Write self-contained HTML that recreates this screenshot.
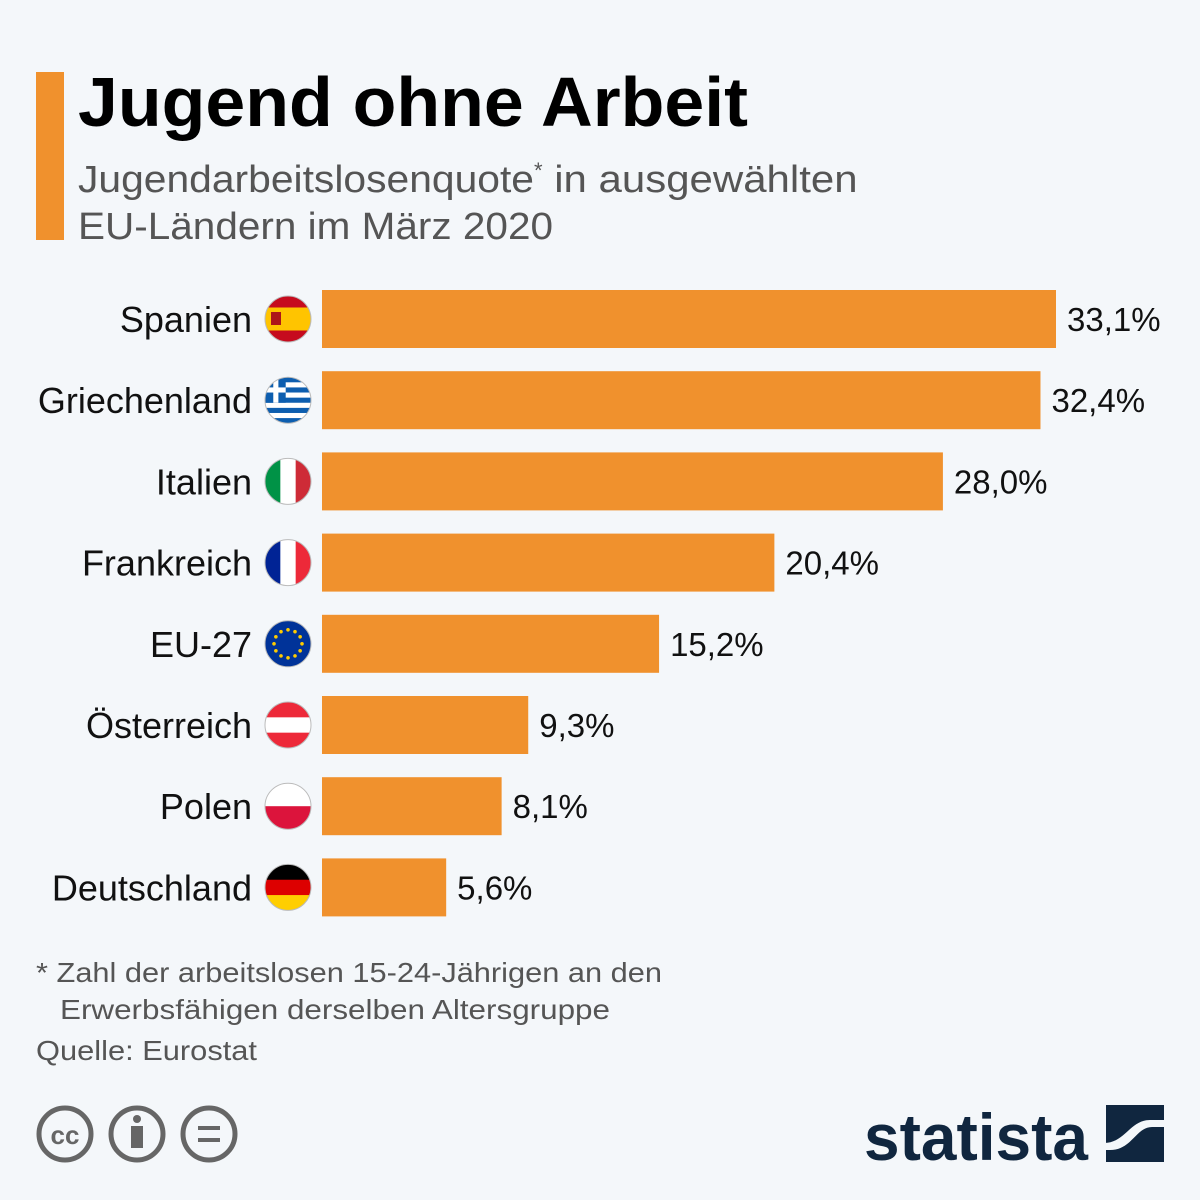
<!DOCTYPE html>
<html><head><meta charset="utf-8"><style>
html,body{margin:0;padding:0;background:#f4f7fa;}
svg{display:block;font-family:"Liberation Sans",sans-serif;}
</style></head><body>
<svg id="chart" width="1200" height="1200" viewBox="0 0 1200 1200">
<rect width="1200" height="1200" fill="#f4f7fa"/>
<rect x="36" y="72" width="28" height="168" fill="#f0912d"/>
<text x="78" y="126" font-size="70" font-weight="bold" fill="#000" textLength="670" lengthAdjust="spacingAndGlyphs">Jugend ohne Arbeit</text>
<text x="78" y="192" font-size="38" fill="#555"><tspan textLength="456" lengthAdjust="spacingAndGlyphs">Jugendarbeitslosenquote</tspan><tspan font-size="22" dy="-14">*</tspan><tspan dy="14" textLength="315" lengthAdjust="spacingAndGlyphs"> in ausgewählten</tspan></text>
<text x="78" y="239" font-size="38" fill="#555" textLength="475" lengthAdjust="spacingAndGlyphs">EU-Ländern im März 2020</text>
<g id="bars"></g>
<text x="36" y="982" font-size="28" fill="#555" textLength="626" lengthAdjust="spacingAndGlyphs">* Zahl der arbeitslosen 15-24-Jährigen an den</text>
<text x="60" y="1019" font-size="28" fill="#555" textLength="550" lengthAdjust="spacingAndGlyphs">Erwerbsfähigen derselben Altersgruppe</text>
<text x="36" y="1060" font-size="28" fill="#555" textLength="221" lengthAdjust="spacingAndGlyphs">Quelle: Eurostat</text>
<g stroke="#666" stroke-width="5" fill="none">
<circle cx="65" cy="1134" r="26"/><text x="65" y="1144" font-size="26" font-weight="bold" fill="#666" stroke="none" text-anchor="middle">cc</text>
<circle cx="137" cy="1134" r="26"/><circle cx="137" cy="1119" r="4" fill="#666" stroke="none"/><rect x="131" y="1126" width="12" height="22" fill="#666" stroke="none"/>
<circle cx="209" cy="1134" r="26"/><rect x="198" y="1126" width="22" height="4" fill="#666" stroke="none"/><rect x="198" y="1138" width="22" height="4" fill="#666" stroke="none"/>
</g>
<g>
<text x="864" y="1160" font-size="66" font-weight="bold" fill="#10263f" textLength="224" lengthAdjust="spacingAndGlyphs">statista</text>
<rect x="1106" y="1105" width="58" height="57" fill="#10263f"/>
<path d="M1104 1143 C1125 1143 1130 1120 1150 1120 L1166 1120 L1166 1127 L1152 1127 C1136 1127 1132 1150 1110 1150 L1104 1150 Z" fill="#f4f7fa"/>
</g>
</svg>
<script>
const categories=["Spanien","Griechenland","Italien","Frankreich","EU-27","Österreich","Polen","Deutschland"];
const values=[33.1,32.4,28.0,20.4,15.2,9.3,8.1,5.6];
const valueLabels=["33,1%","32,4%","28,0%","20,4%","15,2%","9,3%","8,1%","5,6%"];
const NS="http://www.w3.org/2000/svg";
const x0=322, scale=734/33.1, top0=290, pitch=81.2, bh=58;
function xs(v){return v*scale;}
function ys(i){return top0+i*pitch;}
const g=document.getElementById('bars');
function mk(t,a,p){const e=document.createElementNS(NS,t);for(const k in a)e.setAttribute(k,a[k]);(p||g).appendChild(e);return e;}
function flag(i,cx,cy,r){
  const grp=mk('g',{});
  
  
  const id='c'+i;
  const cp=mk('clipPath',{id:id},grp);mk('circle',{cx:cx,cy:cy,r:r},cp);
  const f=mk('g',{'clip-path':'url(#'+id+')'},grp);
  const L=cx-r,T=cy-r,D=2*r;
  const h=(cols)=>cols.forEach((c,k)=>mk('rect',{x:L,y:T+k*D/cols.length,width:D,height:D/cols.length+0.5,fill:c},f));
  const v=(cols)=>cols.forEach((c,k)=>mk('rect',{x:L+k*D/cols.length,y:T,width:D/cols.length+0.5,height:D,fill:c},f));
  switch(i){
    case 0: mk('rect',{x:L,y:T,width:D,height:D,fill:'#c60b1e'},f);mk('rect',{x:L,y:T+D/4,width:D,height:D/2,fill:'#ffc400'},f);mk('rect',{x:cx-17,y:cy-7,width:10,height:13,fill:'#ad1519'},f);break;
    case 1: for(let k=0;k<9;k++)mk('rect',{x:L,y:T+k*D/9,width:D,height:D/9+0.3,fill:k%2?'#fff':'#0d5eaf'},f);
      mk('rect',{x:L,y:T,width:D*0.45,height:D*5/9,fill:'#0d5eaf'},f);mk('rect',{x:L,y:T+2*D/9,width:D*0.45,height:D/9,fill:'#fff'},f);mk('rect',{x:L+D*0.18,y:T,width:D/9,height:D*5/9,fill:'#fff'},f);break;
    case 2: v(['#009246','#fff','#ce2b37']);break;
    case 3: v(['#002395','#fff','#ed2939']);break;
    case 4: mk('rect',{x:L,y:T,width:D,height:D,fill:'#003399'},f);for(let k=0;k<12;k++){const a=k*Math.PI/6;mk('circle',{cx:cx+14*Math.cos(a),cy:cy+14*Math.sin(a),r:1.8,fill:'#ffcc00'},f);}break;
    case 5: h(['#ed2939','#fff','#ed2939']);break;
    case 6: h(['#fff','#dc143c']);break;
    case 7: h(['#000','#dd0000','#ffce00']);break;
  }
  mk('circle',{cx:cx,cy:cy,r:r,fill:'none',stroke:'#bbb','stroke-width':1},grp);
}
categories.forEach((c,i)=>{
  const y=ys(i);
  const b=mk('rect',{x:x0,y:y,width:xs(values[i]),height:bh,fill:'#f0912d'});
  
  
  const t=mk('text',{x:252,y:y+42,'font-size':36,'text-anchor':'end',fill:'#111'});t.textContent=c;
  
  
  const vl=mk('text',{x:x0+xs(values[i])+11,y:y+41,'font-size':33,fill:'#111'});vl.textContent=valueLabels[i];
  
  
  flag(i,288,y+29,23);
});
</script>
</body></html>
